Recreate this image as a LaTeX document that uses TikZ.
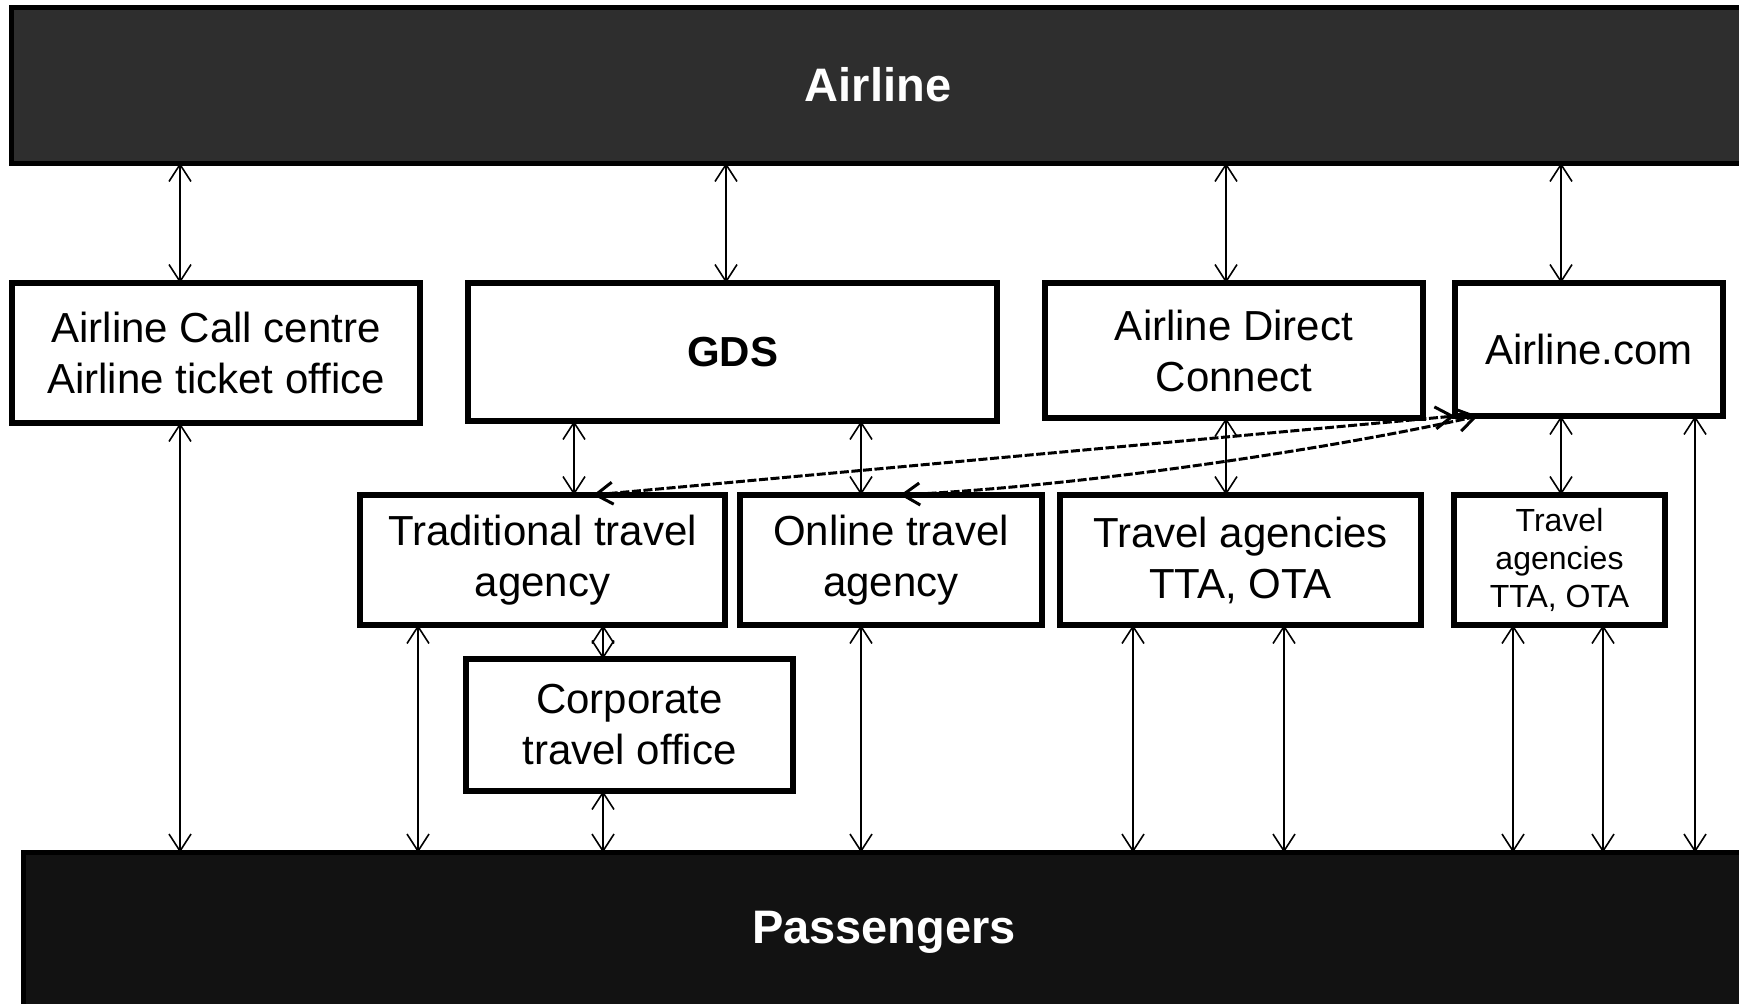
\documentclass[tikz,border=0pt]{standalone}
\usepackage{fontspec}
\setmainfont{Liberation Sans}
\usetikzlibrary{arrows.meta}
\definecolor{bartop}{gray}{0.18}
\definecolor{barbot}{gray}{0.07}
\begin{document}
\begin{tikzpicture}[x=0.5pt,y=-0.5pt,
  box/.style={draw, line width=2.8pt, fill=white, inner sep=0pt, outer sep=0pt,
    align=center, font=\fontsize{21}{25.5}\selectfont},
  smallbox/.style={box, font=\fontsize{16}{19}\selectfont},
  bar/.style={draw=black, line width=2.5pt, inner sep=0pt, outer sep=0pt,
    text=white, font=\fontsize{23.5}{28}\selectfont\bfseries},
  arr/.style={{Straight Barb[length=8.5pt,width=11pt]}-{Straight Barb[length=8.5pt,width=11pt]}, line width=0.8pt},
  dsh/.style={arr, dash pattern=on 4.5pt off 1.3pt, line width=1.5pt}]
\useasboundingbox (0,0) rectangle (1739,1003);
\fill[white] (0,0) rectangle (1739,1003);

% bars
\node[bar, fill=bartop, minimum width=867pt, minimum height=78pt] (airline) at (878,85) {Airline};
\node[bar, fill=barbot, minimum width=861pt, minimum height=79.5pt] (pass) at (884,932) {Passengers};

% upper row
\node[box, minimum width=204pt, minimum height=70pt] (cc) at (216,353) {Airline Call centre\\Airline ticket office};
\node[box, minimum width=264.5pt, minimum height=69pt, font=\fontsize{21}{25.5}\selectfont\bfseries] (gds) at (732.5,352) {GDS};
\node[box, minimum width=189pt, minimum height=67.5pt] (adc) at (1234,350.5) {Airline Direct\\Connect};
\node[box, minimum width=134pt, minimum height=66.5pt] (acom) at (1589,349.5) {Airline.com};

% middle row
\node[box, minimum width=182.5pt, minimum height=65pt] (tta) at (542.5,560) {Traditional travel\\agency};
\node[box, minimum width=151pt, minimum height=65pt] (ota) at (891,560) {Online travel\\agency};
\node[box, minimum width=180.5pt, minimum height=65pt] (ta) at (1240.5,560) {Travel agencies\\TTA, OTA};
\node[smallbox, minimum width=105.5pt, minimum height=65pt] (sta) at (1559.5,560) {Travel\\agencies\\TTA, OTA};

% corporate
\node[box, minimum width=163.5pt, minimum height=66pt] (corp) at (629.5,725) {Corporate\\travel office};

% x positions of connectors
\coordinate (xa) at (180,0);
\coordinate (xb) at (726,0);
\coordinate (xc) at (574,0);
\coordinate (xd) at (861,0);
\coordinate (xe) at (1226,0);
\coordinate (xf) at (1561,0);
\coordinate (xg) at (418,0);
\coordinate (xh) at (603,0);
\coordinate (xi) at (1133,0);
\coordinate (xj) at (1284,0);
\coordinate (xk) at (1513,0);
\coordinate (xl) at (1603,0);
\coordinate (xm) at (1695,0);
\coordinate (xn) at (593,0);
\coordinate (xo) at (900,0);
\coordinate (xp) at (1478,0);

% airline to upper row
\draw[arr] (airline.south -| xa) -- (cc.north -| xa);
\draw[arr] (airline.south -| xb) -- (gds.north -| xb);
\draw[arr] (airline.south -| xe) -- (adc.north -| xe);
\draw[arr] (airline.south -| xf) -- (acom.north -| xf);

% upper row to middle row
\draw[arr] (gds.south -| xc) -- (tta.north -| xc);
\draw[arr] (gds.south -| xd) -- (ota.north -| xd);
\draw[arr] (adc.south -| xe) -- (ta.north -| xe);
\draw[arr] (acom.south -| xf) -- (sta.north -| xf);

% dashed links
\draw[dsh] (tta.north -| xn) -- (acom.south west);
\draw[dsh] (ota.north -| xo) .. controls (1100,485) and (1350,445) .. (acom.south -| xp);

% corporate
\draw[arr] (tta.south -| xh) -- (corp.north -| xh);
\draw[arr] (corp.south -| xh) -- (pass.north -| xh);

% to passengers
\draw[arr] (cc.south -| xa) -- (pass.north -| xa);
\draw[arr] (tta.south -| xg) -- (pass.north -| xg);
\draw[arr] (ota.south -| xd) -- (pass.north -| xd);
\draw[arr] (ta.south -| xi) -- (pass.north -| xi);
\draw[arr] (ta.south -| xj) -- (pass.north -| xj);
\draw[arr] (sta.south -| xk) -- (pass.north -| xk);
\draw[arr] (sta.south -| xl) -- (pass.north -| xl);
\draw[arr] (acom.south -| xm) -- (pass.north -| xm);
\end{tikzpicture}
\end{document}
